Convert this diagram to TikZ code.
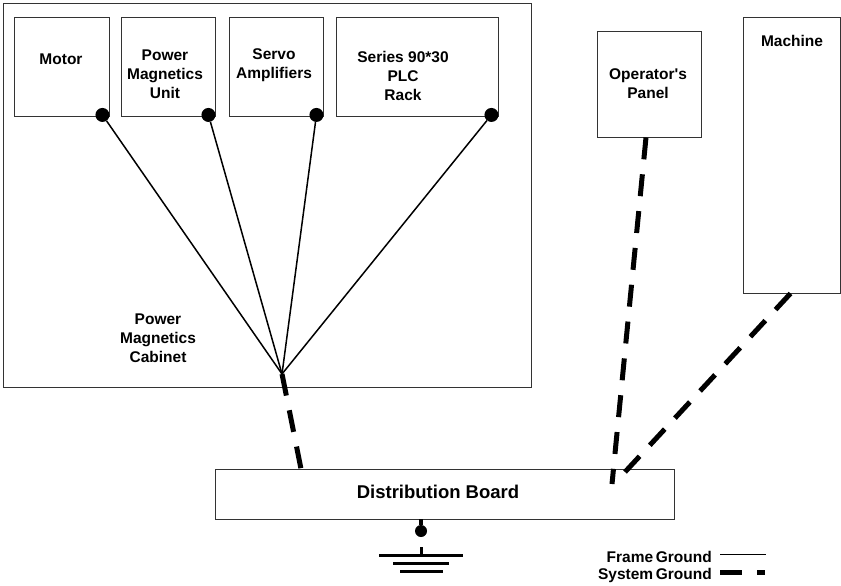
\documentclass[tikz,border=0pt]{standalone}
\usepackage{fontspec}
\setmainfont{Liberation Sans}
\usepackage{tikz}
\usetikzlibrary{positioning,calc}

\tikzset{
    box/.style={draw=black!80, line width=0.9pt, inner sep=0pt},
    lbl/.style={font=\fontsize{15.5}{19}\selectfont\bfseries, align=center, inner sep=0pt},
    dot/.style={circle, fill=black, inner sep=0pt, minimum size=14pt},
    frameg/.style={line width=1.5pt},
    sysg/.style={line width=5pt, dash pattern=on 22pt off 15pt},
}

\begin{document}
\begin{tikzpicture}[x=1pt, y=-1pt]
    \useasboundingbox (0,0) rectangle (841,586);

    % cabinet and the units inside it
    \node[box, minimum width=528pt, minimum height=384pt] (cab) at (267,195) {};
    \foreach \n/\cx/\w in {motor/61.5/95pt, pmu/168/94pt, servo/276/94pt, plc/417/162pt}
        \node[box, minimum width=\w, minimum height=99pt] (\n) at (\cx,66.5) {};

    \node[lbl] (motor-l) at (61,59) {Motor};
    \node[lbl] (pmu-l) at (165,74) {Power\\Magnetics\\Unit};
    \node[lbl] (servo-l) at (274,65) {Servo\\Amplifiers};
    \node[lbl] (plc-l) at (403,76) {Series 90*30\\PLC\\Rack};
    \node[lbl] (cab-l) at (158,338) {Power\\Magnetics\\Cabinet};

    % other equipment
    \node[box, minimum width=104pt, minimum height=106pt] (op) at (649,84) {};
    \node[lbl] (op-l) at (648,84) {Operator\textquotesingle s\\Panel};
    \node[box, minimum width=97pt, minimum height=276pt] (mach) at (791.5,155) {};
    \node[lbl] (mach-l) at (792,41) {Machine};
    \node[box, minimum width=459pt, minimum height=50pt] (board) at (444.5,494) {};
    \node[lbl, font=\fontsize{18.5}{22}\selectfont\bfseries] (board-l) at (438,492) {Distribution Board};

    % frame ground wires
    \coordinate (hub) at (282,374);
    \foreach \n in {motor,pmu,servo,plc} {
        \node[dot] (\n-dot) at ($(\n.south east)+(-7,-1.5)$) {};
        \draw[frameg] (\n-dot) -- (hub);
    }

    % system ground wires
    \coordinate (b1) at (301,469);
    \coordinate (b2) at (612,484);
    \coordinate (b3) at (625,472);
    \draw[sysg] (hub) -- (b1);
    \draw[sysg] ($(op.south)+(-3,0)$) -- (b2);
    \draw[sysg] ($(mach.south)+(-1,0)$) -- (b3);

    % earth
    \node[dot, minimum size=12pt] (gdot) at (421,531) {};
    \draw[line width=3.5pt] (gdot |- board.south) -- (gdot);
    \coordinate (gnd) at (421,555);
    \draw[line width=3pt] (gnd) -- ++(0,-8);
    \draw[line width=3pt] ($(gnd)+(-42,0)$) -- ++(84,0);
    \draw[line width=3pt] ($(gnd)+(-28,8)$) -- ++(56,0);
    \draw[line width=3pt] ($(gnd)+(-21,16)$) -- ++(43,0);

    % legend
    \node[lbl, anchor=east] (fg) at (712,557) {Frame\,Ground};
    \node[lbl, anchor=east] (sg) at (712,575.5) {System\,Ground};
    \draw[frameg] ($(fg.east)+(8,-2.3)$) -- ++(46,0);
    \draw[sysg] ($(sg.east)+(8,-3.5)$) -- ++(45,0);
\end{tikzpicture}
\end{document}
